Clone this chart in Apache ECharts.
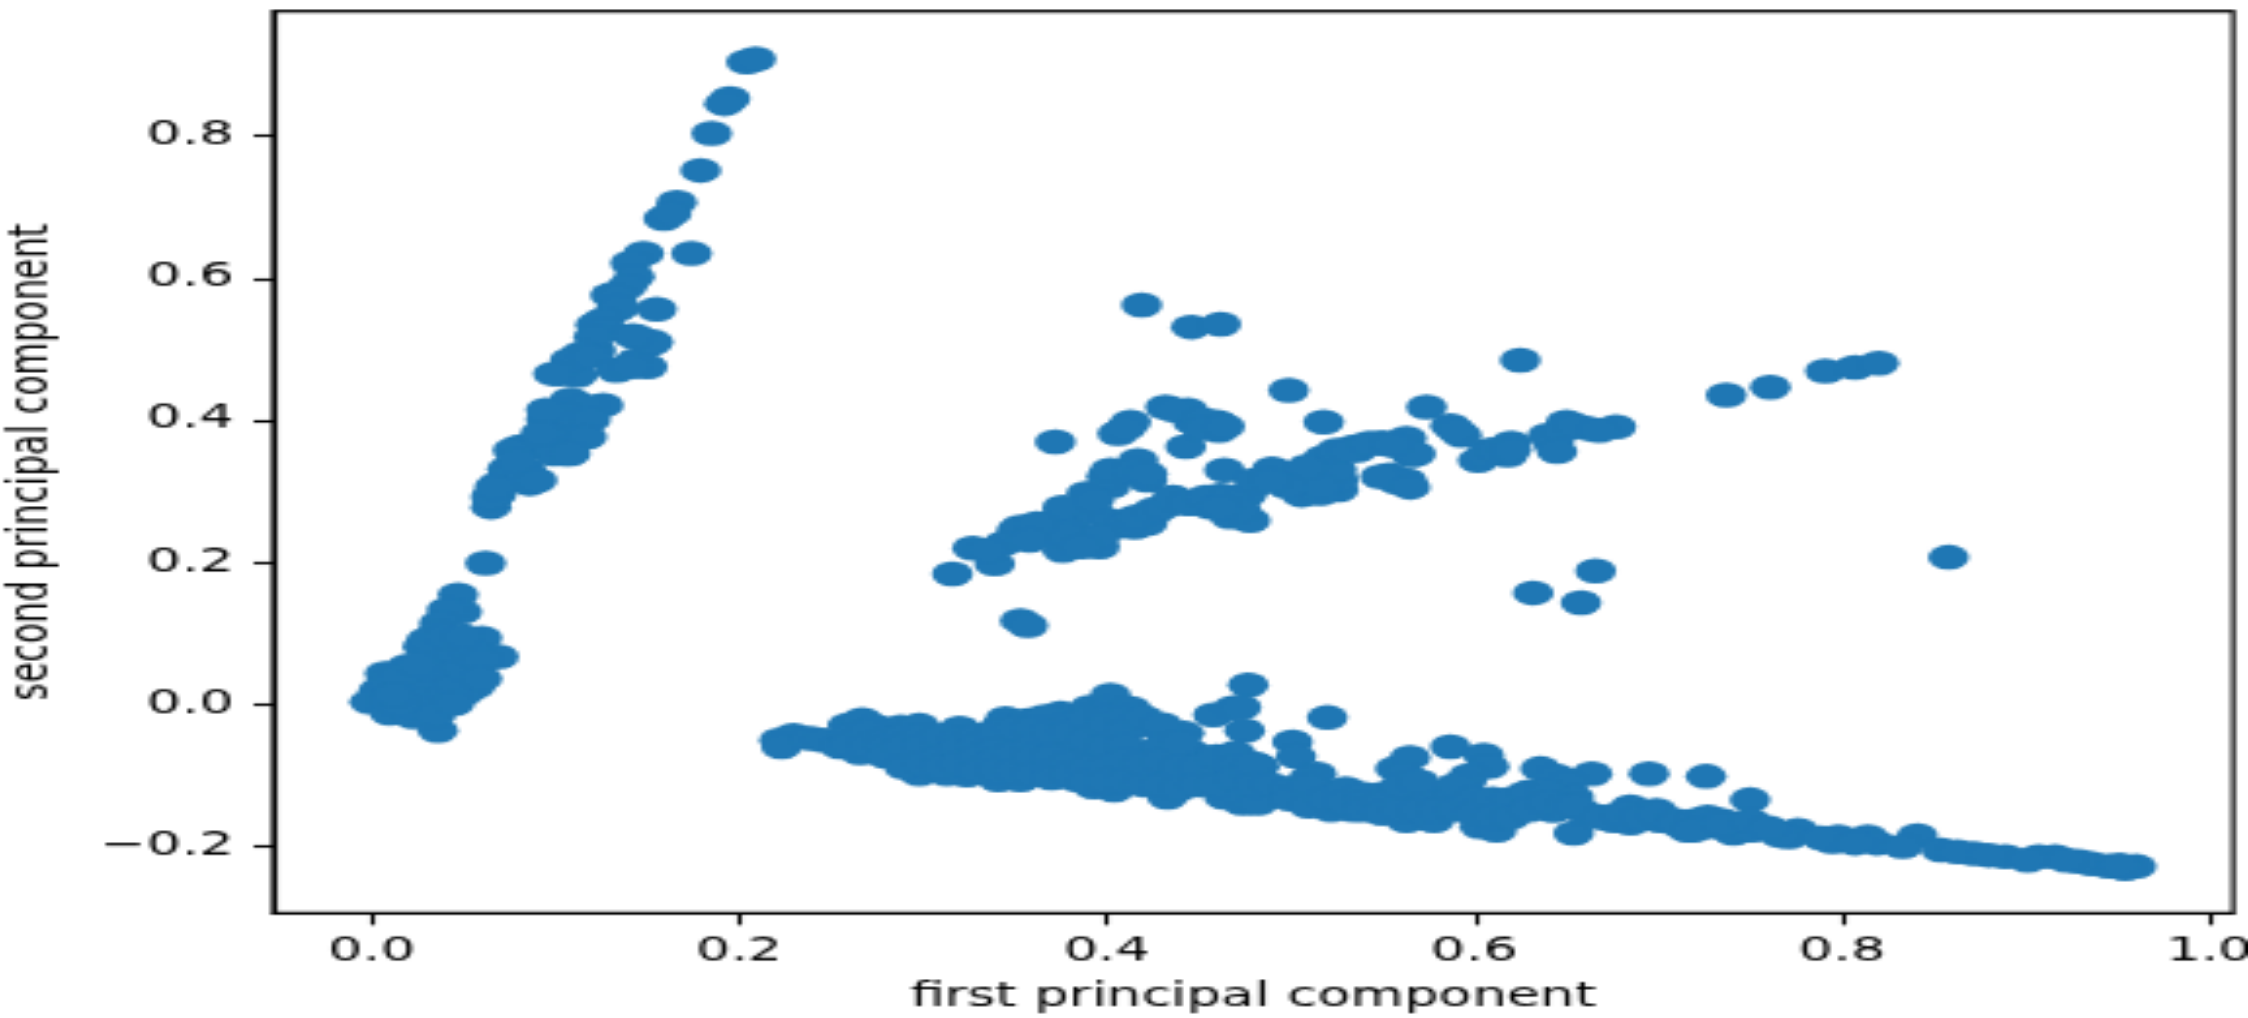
<!DOCTYPE html>
<html>
<head>
<meta charset="utf-8">
<style>
html,body{margin:0;padding:0;background:#fff;overflow:hidden;width:2248px;height:1018px}
#chart{width:576px;height:424px;transform-origin:0 0;transform:scale(3.9028,2.4009)}
</style>
<script src="https://cdn.jsdelivr.net/npm/echarts@6/dist/echarts.min.js"></script>
</head>
<body>
<div id="chart"></div>
<script>
const xTickValues = [0, 0.2, 0.4, 0.6, 0.8, 1.0];
const yTickValues = [-0.2, 0, 0.2, 0.4, 0.6, 0.8];
const xTitle = 'first principal component';
const yTitle = 'second principal component';

const originCluster = [
[.047,.153],[.049,.129],[.041,.132],[.037,.113],[.036,.101],[.028,.080],[.039,.085],[.060,.092],[.069,.066],[.057,.047],
[.047,.061],[.032,.061],[.056,.023],[.037,.028],[.0074,.042],[.019,.052],[.004,.019],[-.001,.002],[.010,-.014],[.023,-.019],
[.036,-.038],[.021,.014],[.037,.000],[.050,.014],[.032,-.019],[.014,.023],[.026,.038],[.052,.038],[.043,.042],
[.01,.03],[.02,.03],[.03,.02],[.02,.0],[.01,.005],[.03,.005],[.04,.01],[.025,-.005],[.035,-.015],[.015,.0],[.045,.03],
[.03,.05],[.04,.055],[.05,.05],[.035,.075],[.045,.075],[.03,.09],[.055,.07],[.06,.06],[.06,.035],[.015,.04],[.025,.055],
[.04,.095],[.05,.095],[.012,.012],[.045,.0]
];
const upperArm = [
[.204,.905],[.209,.909],[.195,.853],[.192,.846],[.185,.804],[.179,.752],[.166,.707],[.159,.684],[.163,.691],
[.174,.635],[.148,.635],[.141,.621],[.143,.602],[.130,.576],[.139,.588],[.133,.555],[.122,.534],[.155,.556],
[.144,.517],[.152,.508],[.146,.480],[.135,.472],[.122,.498],[.113,.491],[.103,.465],[.112,.463],[.126,.421],
[.110,.425],[.099,.407],[.110,.404],[.114,.376],[.104,.381],[.081,.362],[.094,.367],[.105,.352],[.074,.331],
[.086,.310],[.084,.329],[.069,.310],[.065,.277],[.066,.291],[.062,.198],
[.1335,.573],[.135,.559],[.126,.541],[.128,.527],[.121,.517],[.115,.494],[.108,.484],[.119,.489],[.099,.465],
[.133,.470],[.144,.484],[.150,.475],[.141,.475],[.153,.510],[.142,.519],[.108,.428],[.117,.418],[.095,.400],
[.104,.409],[.119,.400],[.117,.376],[.095,.381],[.088,.362],[.077,.357],[.099,.352],[.108,.352],[.074,.320],
[.083,.315],[.090,.315],[.068,.296],[.065,.291],[.067,.305],[.079,.343],[.092,.381],[.095,.414]
];
const middleArm = [
[.372,.369],[.316,.183],[.327,.219],[.339,.197],[.351,.244],[.362,.240],[.376,.268],[.376,.216],[.389,.282],[.396,.221],
[.386,.235],[.401,.320],[.402,.306],[.417,.343],[.422,.315],[.436,.289],[.425,.268],[.415,.249],[.404,.249],[.422,.254],
[.406,.381],[.413,.397],[.432,.418],[.444,.414],[.447,.397],[.460,.397],[.461,.385],[.443,.362],[.499,.442],[.518,.397],
[.464,.329],[.462,.294],[.474,.291],[.456,.277],[.467,.263],[.478,.258],[.447,.282],[.490,.331],[.482,.310],[.506,.294],
[.518,.343],[.514,.324],[.526,.301],[.526,.315],[.511,.315],[.536,.357],[.551,.367],[.563,.374],[.554,.322],[.563,.315],
[.558,.312],[.516,.296],[.574,.418],[.587,.392],[.593,.378],[.602,.343],[.608,.357],[.620,.367],[.618,.350],[.650,.397],
[.643,.367],[.662,.388],[.677,.390],[.625,.484],[.737,.435],[.761,.446],[.791,.469],[.807,.474],[.820,.480],[.858,.206],
[.666,.187],[.632,.156],[.658,.142],[.419,.562],[.446,.531],[.462,.535],[.353,.117],[.357,.110],[.566,.350],[.549,.367],
[.535,.362],[.518,.347],
[.353,.249],[.344,.226],[.335,.216],[.371,.254],[.380,.258],[.393,.268],[.389,.296],[.376,.277],[.402,.258],[.411,.254],
[.416,.263],[.425,.273],[.431,.277],[.436,.291],[.444,.282],[.454,.291],[.467,.291],[.476,.294],[.473,.273],[.462,.277],
[.480,.315],[.396,.235],[.376,.240],[.386,.221],[.362,.254],[.358,.230],[.400,.320],[.402,.329],[.393,.287],[.415,.329],
[.422,.324],[.507,.315],[.516,.329],[.525,.329],[.516,.306],[.498,.306],[.489,.315],[.509,.334],[.525,.357],[.532,.357],
[.543,.367],[.556,.364],[.549,.320],[.565,.305],[.562,.361],[.568,.352],[.555,.366],[.590,.385],[.606,.350],[.612,.358],
[.620,.358],[.640,.378],[.648,.385],[.655,.392],[.668,.385],[.645,.355],[.410,.388],[.437,.414],[.452,.400],[.452,.388],
[.464,.391]
];
const lowerBandLeft = [
[.222,-.052],[.2295,-.045],[.223,-.061],[.239,-.049],[.246,-.052],[.259,-.031],[.267,-.023],[.255,-.061],[.266,-.070],
[.279,-.047],[.275,-.033],[.288,-.033],[.298,-.031],[.275,-.061],[.288,-.078],[.298,-.099],[.297,-.075],[.307,-.061],
[.320,-.035],[.324,-.101],[.313,-.099],[.320,-.071],[.335,-.085],[.345,-.021],[.357,-.024],[.342,-.033],[.341,-.108],
[.353,-.108],[.338,-.052],[.349,-.056],[.345,-.085],[.357,-.085],[.367,-.061],[.375,-.014],[.371,-.033],[.366,-.019],
[.360,-.047],[.378,-.052],[.375,-.099],[.384,-.108],[.391,-.005],[.402,.012],[.393,-.033],[.402,-.007],[.413,-.007],
[.404,-.122],[.393,-.118],[.402,-.075],[.404,-.047],[.393,-.070],[.384,-.070],[.425,-.031],[.433,-.047],[.433,-.132],
[.416,-.099],[.429,-.099],[.422,-.070],[.442,-.042],[.447,-.070],[.438,-.075],[.445,-.113],[.436,-.108],[.458,-.016],
[.469,-.006],[.477,.026],[.474,-.141],[.464,-.132],[.473,-.118],[.464,-.099],[.456,-.085],[.475,-.038],
[.26,-.045],[.26,-.058],[.27,-.04],[.27,-.06],[.28,-.05],[.28,-.06],[.28,-.075],[.29,-.045],[.29,-.06],[.29,-.09],
[.30,-.045],[.30,-.06],[.30,-.085],[.31,-.045],[.31,-.075],[.31,-.09],[.32,-.05],[.32,-.06],[.32,-.085],[.33,-.045],
[.33,-.06],[.33,-.075],[.33,-.095],[.34,-.04],[.34,-.065],[.34,-.08],[.34,-.095],[.35,-.035],[.35,-.07],[.35,-.095],
[.36,-.035],[.36,-.06],[.36,-.075],[.36,-.10],[.37,-.04],[.37,-.075],[.37,-.095],[.37,-.105],[.38,-.03],[.38,-.04],
[.38,-.085],[.38,-.10],[.39,-.02],[.39,-.05],[.39,-.09],[.39,-.11],[.40,-.02],[.40,-.03],[.40,-.06],[.40,-.09],[.40,-.11],
[.41,-.02],[.41,-.04],[.41,-.06],[.41,-.08],[.41,-.11],[.42,-.02],[.42,-.085],[.42,-.115],[.43,-.03],[.43,-.06],
[.43,-.08],[.43,-.115],[.44,-.055],[.44,-.09],[.44,-.12],[.45,-.09],[.45,-.115],[.46,-.075],[.46,-.115],[.47,-.07],
[.47,-.09],[.47,-.105]
];
const lowerBandMiddle = [
[.473,-.005],[.520,-.020],[.501,-.054],[.503,-.075],[.514,-.099],[.478,-.094],[.483,-.089],[.476,-.132],[.489,-.127],
[.482,-.141],[.500,-.122],[.512,-.136],[.522,-.150],[.534,-.150],[.523,-.127],[.536,-.132],[.547,-.146],[.557,-.092],
[.565,-.076],[.562,-.099],[.551,-.127],[.563,-.165],[.578,-.165],[.561,-.132],[.572,-.122],[.581,-.132],[.587,-.061],
[.605,-.073],[.608,-.089],[.597,-.102],[.595,-.113],[.589,-.127],[.600,-.141],[.603,-.174],[.612,-.179],[.614,-.141],
[.627,-.141],[.628,-.127],[.623,-.151],[.636,-.092],[.645,-.103],[.664,-.099],[.651,-.113],[.654,-.132],[.643,-.151],
[.654,-.183],[.661,-.155],[.668,-.160],[.685,-.146],[.699,-.151],[.685,-.169],[.676,-.165],[.701,-.165],[.695,-.099],
[.726,-.103],[.716,-.179],[.728,-.165],[.741,-.183],[.727,-.174],
[.48,-.085],[.48,-.115],[.49,-.115],[.50,-.12],[.50,-.135],[.51,-.105],[.51,-.115],[.51,-.145],[.52,-.135],[.53,-.12],
[.53,-.14],[.54,-.128],[.54,-.14],[.54,-.15],[.55,-.14],[.55,-.155],[.56,-.115],[.56,-.15],[.57,-.11],[.57,-.15],
[.58,-.15],[.59,-.115],[.59,-.15],[.60,-.135],[.60,-.155],[.61,-.135],[.61,-.16],[.62,-.135],[.62,-.16],[.63,-.125],
[.63,-.15],[.64,-.125],[.64,-.14],[.65,-.145],[.655,-.145],[.67,-.16],[.68,-.155],[.69,-.16],[.70,-.155],[.71,-.165],
[.71,-.17],[.72,-.165]
];
const lowerBandRight = [
[.750,-.136],[.727,-.160],[.739,-.179],[.751,-.179],[.719,-.179],[.776,-.179],[.771,-.188],[.795,-.195],[.798,-.188],
[.814,-.188],[.819,-.197],[.841,-.186],[.833,-.202],[.854,-.207],[.872,-.212],[.889,-.216],[.907,-.216],[.916,-.216],
[.901,-.221],[.936,-.226],[.945,-.230],[.960,-.230],[.954,-.233],[.929,-.223],[.863,-.209],[.880,-.214],[.922,-.221],
[.951,-.228],[.766,-.186],[.789,-.190],[.807,-.197],[.735,-.165],[.735,-.17],[.75,-.165],[.76,-.175]
];
const points = [].concat(originCluster, upperArm, middleArm, lowerBandLeft, lowerBandMiddle, lowerBandRight);

const fmt = v => v.toFixed(1).replace('-', '\u2212');
const labelFont = {fontFamily:'DejaVu Sans', fontSize:14, color:'#000'};
const chart = echarts.init(document.getElementById('chart'), null, {renderer:'canvas', devicePixelRatio:1});
chart.setOption({
  animation:false,
  backgroundColor:'#fff',
  grid:{left:70, right:3.84, top:4.6, bottom:43.7, show:true, borderColor:'#000', borderWidth:1.1, backgroundColor:'#fff', outerBoundsMode:'none'},
  xAxis:{
    type:'value', min:-0.0535, max:1.0128, position:'bottom',
    name:xTitle, nameLocation:'middle', nameGap:28.5, nameTextStyle:labelFont,
    splitLine:{show:false},
    axisLine:{show:true, onZero:false, lineStyle:{color:'#000', width:1.1}},
    axisTick:{show:true, length:5, lineStyle:{color:'#000', width:1.1}, customValues:xTickValues},
    axisLabel:Object.assign({margin:9.5, customValues:xTickValues, formatter:fmt}, labelFont)
  },
  yAxis:{
    type:'value', min:-0.2958, max:0.9765, position:'left',
    name:yTitle, nameLocation:'middle', nameGap:45.5, nameTextStyle:labelFont,
    splitLine:{show:false},
    axisLine:{show:true, onZero:false, lineStyle:{color:'#000', width:1.1}},
    axisTick:{show:true, length:5, lineStyle:{color:'#000', width:1.1}, customValues:yTickValues},
    axisLabel:Object.assign({margin:10.2, customValues:yTickValues, formatter:fmt}, labelFont)
  },
  series:[{
    type:'scatter', data:points, symbol:'circle', symbolSize:10.5,
    itemStyle:{color:'#1f77b4', opacity:1}, silent:true
  }]
});
</script>
</body>
</html>
